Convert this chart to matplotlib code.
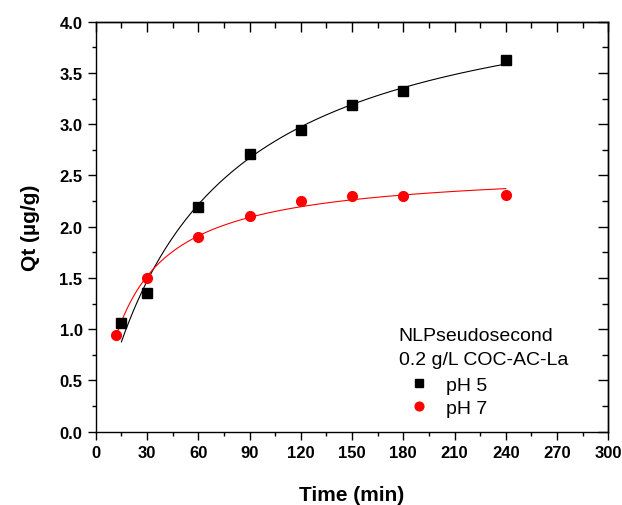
import numpy as np
import matplotlib.pyplot as plt
from matplotlib.ticker import MultipleLocator

plt.rcParams['font.family'] = ['Liberation Sans', 'DejaVu Sans']

# data
time_ph5 = np.array([15, 30, 60, 90, 120, 150, 180, 240])
qt_ph5 = np.array([1.06, 1.35, 2.19, 2.71, 2.94, 3.19, 3.32, 3.63])
time_ph7 = np.array([12, 30, 60, 90, 120, 150, 180, 240])
qt_ph7 = np.array([0.94, 1.50, 1.90, 2.10, 2.25, 2.30, 2.30, 2.31])

legend_title = "NLPseudosecond\n0.2 g/L COC-AC-La"
labels = ["pH 5", "pH 7"]


def pso(t, qe, k):
    return qe ** 2 * k * t / (1 + qe * k * t)


def fit_pso(t, q):
    # brute force non-linear least squares on a grid
    qe = np.linspace(1.0, 8.0, 701)[:, None, None]
    k = np.logspace(-4, 0, 801)[None, :, None]
    err = ((pso(t[None, None, :], qe, k) - q[None, None, :]) ** 2).sum(axis=2)
    i, j = np.unravel_index(np.argmin(err), err.shape)
    return qe[i, 0, 0], k[0, j, 0]


fig, ax = plt.subplots(figsize=(6.22, 5.06), dpi=100)
fig.subplots_adjust(left=0.154, right=0.978, top=0.955, bottom=0.145)

for t, q, color, marker, lab in [(time_ph5, qt_ph5, 'black', 's', labels[0]),
                                 (time_ph7, qt_ph7, 'red', 'o', labels[1])]:
    qe, k = fit_pso(t, q)
    tt = np.linspace(t[0], t[-1], 300)
    ax.plot(tt, pso(tt, qe, k), color=color, lw=0.8, zorder=2)
    ax.plot(t, q, ls='none', marker=marker, color=color,
            ms=7 if marker == 'o' else 6.5, label=lab, zorder=3)

ax.set_xlim(0, 300)
ax.set_ylim(0, 4.0)
ax.xaxis.set_major_locator(MultipleLocator(30))
ax.xaxis.set_minor_locator(MultipleLocator(15))
ax.yaxis.set_major_locator(MultipleLocator(0.5))
ax.yaxis.set_minor_locator(MultipleLocator(0.25))
ax.yaxis.set_major_formatter(plt.FormatStrFormatter('%.1f'))

ax.tick_params(which='both', bottom=True, left=True, top=False, right=False,
               direction='out', width=1.0)
ax.tick_params(which='major', length=6, labelsize=12)
ax.tick_params(which='minor', length=3)
for lbl in ax.get_xticklabels() + ax.get_yticklabels():
    lbl.set_fontweight('bold')

# inward ticks on top and right
sec_x = ax.secondary_xaxis('top')
sec_x.xaxis.set_major_locator(MultipleLocator(30))
sec_x.xaxis.set_minor_locator(MultipleLocator(15))
sec_x.tick_params(which='both', direction='in', labeltop=False, width=1.0)
sec_x.tick_params(which='major', length=7)
sec_x.tick_params(which='minor', length=4)
sec_y = ax.secondary_yaxis('right')
sec_y.yaxis.set_major_locator(MultipleLocator(0.5))
sec_y.yaxis.set_minor_locator(MultipleLocator(0.25))
sec_y.tick_params(which='both', direction='in', labelright=False, width=1.0)
sec_y.tick_params(which='major', length=7)
sec_y.tick_params(which='minor', length=4)
for a in (ax, sec_x, sec_y):
    for s in a.spines.values():
        s.set_linewidth(1.0)

ax.set_xlabel("Time (min)", fontsize=15, fontweight='bold', labelpad=18)
ax.set_ylabel("Qt (µg/g)", fontsize=15, fontweight='bold', labelpad=14)

leg = ax.legend(title=legend_title, loc='upper left', bbox_to_anchor=(0.572, 0.28),
                frameon=False, fontsize=14, title_fontsize=14, borderpad=0,
                alignment='left', handlelength=2.1, handletextpad=0.35,
                labelspacing=0.3, markerscale=0.9)
leg.get_title().set_linespacing(1.55)
leg._legend_box.sep = 6

fig.savefig("out.png", dpi=100)
